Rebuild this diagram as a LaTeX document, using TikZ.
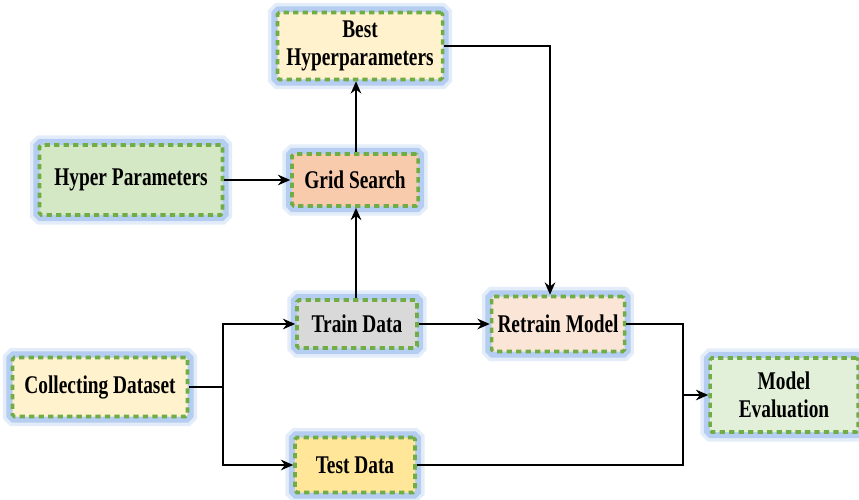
\documentclass[tikz,border=0pt]{standalone}
\usepackage{fontspec}
\setmainfont{Liberation Serif}
\newfontfamily\boxfont[FakeStretch=0.76]{Liberation Serif}
\usetikzlibrary{arrows.meta}

\definecolor{dashgreen}{HTML}{70AD47}
\definecolor{glowblue}{HTML}{8FB4E8}
\definecolor{creamfill}{HTML}{FFF2CC}
\definecolor{greenfill}{HTML}{D5E8C6}
\definecolor{salmonfill}{HTML}{F8CBAD}
\definecolor{grayfill}{HTML}{D9D9D9}
\definecolor{peachfill}{HTML}{FBE5D6}
\definecolor{yellowfill}{HTML}{FFE699}
\definecolor{mintfill}{HTML}{E2F0D9}

\tikzset{
  stage/.style={draw=dashgreen, line width=2pt, dash pattern=on 3pt off 2.4pt,
    rounded corners=1pt, align=center, inner sep=0pt,
    font=\boxfont\bfseries\fontsize{14.5pt}{16pt}\selectfont,
    preaction={draw=glowblue, solid, line width=11pt, opacity=0.25, rounded corners=6pt},
    preaction={draw=glowblue, solid, line width=7pt, opacity=0.55, rounded corners=4pt}},
  link/.style={line width=1.6pt, -{Stealth[length=7pt,width=6pt]}},
  plain/.style={line width=1.6pt},
}

\begin{document}
\begin{tikzpicture}
\useasboundingbox (0,0) rectangle (17.18,9.98);

% boxes
\node[stage, fill=creamfill, minimum width=3.3cm, minimum height=1.34cm] (best) at (7.2,9.06) {Best\\Hyperparameters};
\node[stage, fill=greenfill, minimum width=3.66cm, minimum height=1.4cm] (hyper) at (2.62,6.38) {Hyper Parameters};
\node[stage, fill=salmonfill, minimum width=2.52cm, minimum height=1.04cm] (grid) at (7.1,6.38) {Grid Search};
\node[stage, fill=grayfill, minimum width=2.4cm, minimum height=0.96cm] (train) at (7.14,3.5) {Train Data};
\node[stage, fill=creamfill, minimum width=3.5cm, minimum height=1.18cm] (collect) at (2.0,2.24) {Collecting Dataset};
\node[stage, fill=yellowfill, minimum width=2.4cm, minimum height=1.1cm] (test) at (7.1,0.68) {Test Data};
\node[stage, fill=peachfill, minimum width=2.66cm, minimum height=1.1cm] (retrain) at (11.16,3.5) {Retrain Model};
\node[stage, fill=mintfill, minimum width=2.96cm, minimum height=1.48cm] (eval) at (15.68,2.08) {Model\\Evaluation};

% branch points
\coordinate (split) at (4.46,2.24);
\coordinate (merge) at (13.66,2.08);
\coordinate (upx) at (7.12,0);

% connectors
\draw[link] (hyper) -- (hyper -| grid.west);
\draw[link] (upx |- grid.north) -- (upx |- best.south);
\draw[link] (upx |- train.north) -- (upx |- grid.south);
\draw[link] (best.east) -| ([xshift=-0.16cm]retrain.north);
\draw[plain] (collect) -- (split);
\draw[link] (split) |- (train.west);
\draw[link] (split) |- (test.west);
\draw[link] (train) -- (retrain);
\draw[plain] (retrain.east) -| (merge);
\draw[plain] (test.east) -| (merge);
\draw[link] (merge) -- (eval.west);
\end{tikzpicture}
\end{document}
